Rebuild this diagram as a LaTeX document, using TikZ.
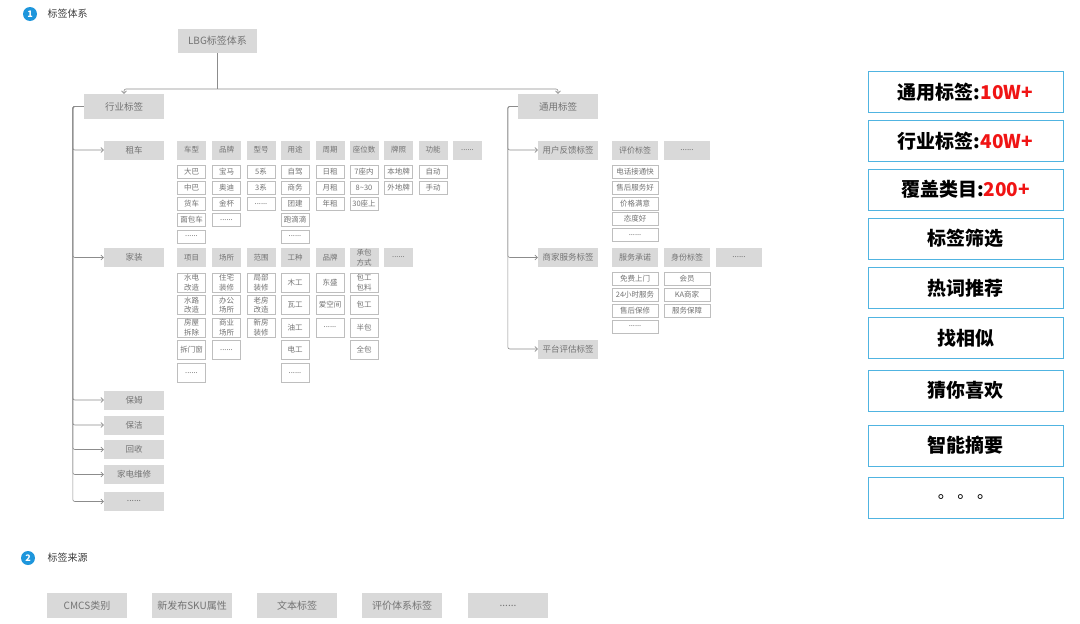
\documentclass[tikz,border=0pt]{standalone}
\usepackage{fontspec}
\setmainfont{Noto Sans CJK SC}
\usetikzlibrary{arrows.meta}
\definecolor{tagfill}{RGB}{217,217,217}
\definecolor{tagtext}{RGB}{115,115,115}
\definecolor{valline}{RGB}{190,190,190}
\definecolor{linegray}{RGB}{140,140,140}
\definecolor{badgeblue}{RGB}{30,150,220}
\definecolor{statline}{RGB}{80,180,225}
\definecolor{statred}{RGB}{240,20,20}
\definecolor{titletext}{RGB}{60,60,60}
\tikzset{
  catbox/.style={fill=tagfill, text=tagtext, inner sep=0pt, minimum width=60,
              minimum height=19, font=\fontsize{8.5}{9}\selectfont, align=center},
  attrbox/.style={catbox, minimum width=29, font=\fontsize{7.5}{9}\selectfont},
  wideattr/.style={catbox, minimum width=46, font=\fontsize{8}{9}\selectfont},
  valbox/.style={draw=valline, fill=white, text=tagtext, inner sep=0pt, minimum width=28,
              minimum height=13, font=\fontsize{7.5}{9.5}\selectfont, align=center},
  tallval/.style={valbox, minimum height=19},
  wideval/.style={valbox, minimum width=46},
  srcbox/.style={catbox, minimum width=80, minimum height=25, font=\fontsize{10}{11}\selectfont},
  statbox/.style={draw=statline, line width=0.9pt, minimum width=195, minimum height=41,
              font=\fontsize{19}{22}\selectfont\bfseries, text=black},
  badge/.style={circle, fill=badgeblue, text=white, minimum size=14, inner sep=0pt,
              font=\fontsize{9}{9}\selectfont\bfseries},
  title/.style={anchor=west, text=titletext, font=\fontsize{10}{11}\selectfont},
  link/.style={draw=linegray, line width=0.6pt, rounded corners=2pt,
              -{Straight Barb[length=2.5pt,width=5pt]}},
}

\begin{document}
\begin{tikzpicture}[x=1pt, y=-1pt]
  \useasboundingbox (0,0) rectangle (1080,624);
  % section 1
  \node[badge] (n1) at (30,14) {1};
  \node[title] (t1) at (44,14) {标签体系};
  \node[catbox, minimum width=79, minimum height=24, font=\fontsize{10}{11}\selectfont] (lbg) at (217.5,41) {LBG标签体系};
  \node[catbox, minimum width=80, minimum height=25, font=\fontsize{9.5}{10}\selectfont] (hy) at (124,106.5) {行业标签};
  \node[catbox, minimum width=80, minimum height=25, font=\fontsize{9.5}{10}\selectfont] (ty) at (558,106.5) {通用标签};
  \coordinate (split) at (217.5,89);
  \draw[linegray, line width=0.6pt] (lbg) -- (split);
  \draw[link] (split) -| (hy);
  \draw[link] (split) -| (ty);

  % industry categories
  \node[catbox] (zc) at (134,150) {租车};
  \node[catbox] (jz) at (134,257.5) {家装};
  \node[catbox] (bm) at (134,400) {保姆};
  \node[catbox] (bj) at (134,425) {保洁};
  \node[catbox] (hs) at (134,449.5) {回收};
  \node[catbox] (jd) at (134,474.5) {家电维修};
  \node[catbox] (hymore) at (134,501.5) {......};
  \draw[link] (hy.west) -- ++(-11,0) |- (zc.west);
  \draw[link] (hy.west) -- ++(-11,0) |- (jz.west);
  \draw[link] (hy.west) -- ++(-11,0) |- (bm.west);
  \draw[link] (hy.west) -- ++(-11,0) |- (bj.west);
  \draw[link] (hy.west) -- ++(-11,0) |- (hs.west);
  \draw[link] (hy.west) -- ++(-11,0) |- (jd.west);
  \draw[link] (hy.west) -- ++(-11,0) |- (hymore.west);

  % car rental
  \node[attrbox] (cx) at (191.5,150) {车型};
  \node[attrbox] (pp) at (226.5,150) {品牌};
  \node[attrbox] (xh) at (261,150) {型号};
  \node[attrbox] (yt) at (295,150) {用途};
  \node[attrbox] (zq) at (330,150) {周期};
  \node[attrbox] (zw) at (364,150) {座位数};
  \node[attrbox] (pz) at (398.5,150) {牌照};
  \node[attrbox] (gn) at (433,150) {功能};
  \node[attrbox] (zcmore) at (467.5,150) {......};
  \node[valbox] (cx1) at (191.5,171.5) {大巴};
  \node[valbox] (cx2) at (191.5,188) {中巴};
  \node[valbox] (cx3) at (191.5,204) {货车};
  \node[valbox] (cx4) at (191.5,220) {面包车};
  \node[valbox] (cx5) at (191.5,236.5) {......};
  \node[valbox] (pp1) at (226.5,171.5) {宝马};
  \node[valbox] (pp2) at (226.5,188) {奥迪};
  \node[valbox] (pp3) at (226.5,204) {金杯};
  \node[valbox] (pp4) at (226.5,220) {......};
  \node[valbox] (xh1) at (261,171.5) {5系};
  \node[valbox] (xh2) at (261,188) {3系};
  \node[valbox] (xh3) at (261,204) {......};
  \node[valbox] (yt1) at (295,171.5) {自驾};
  \node[valbox] (yt2) at (295,188) {商务};
  \node[valbox] (yt3) at (295,204) {团建};
  \node[valbox] (yt4) at (295,220) {跑滴滴};
  \node[valbox] (yt5) at (295,236.5) {......};
  \node[valbox] (zq1) at (330,171.5) {日租};
  \node[valbox] (zq2) at (330,188) {月租};
  \node[valbox] (zq3) at (330,204) {年租};
  \node[valbox] (zw1) at (364,171.5) {7座内};
  \node[valbox] (zw2) at (364,188) {8\textasciitilde30};
  \node[valbox] (zw3) at (364,204) {30座上};
  \node[valbox] (pz1) at (398.5,171.5) {本地牌};
  \node[valbox] (pz2) at (398.5,188) {外地牌};
  \node[valbox] (gn1) at (433,171.5) {自动};
  \node[valbox] (gn2) at (433,188) {手动};

  % home decoration
  \node[attrbox] (xm) at (191.5,257.5) {项目};
  \node[attrbox] (cs) at (226.5,257.5) {场所};
  \node[attrbox] (fw) at (261,257.5) {范围};
  \node[attrbox] (gz) at (295,257.5) {工种};
  \node[attrbox] (jpp) at (330,257.5) {品牌};
  \node[attrbox, font=\fontsize{7.5}{9.5}\selectfont] (cb) at (364,257.5) {承包\\方式};
  \node[attrbox] (jzmore) at (398.5,257.5) {......};
  \node[tallval] (xm1) at (191.5,282.5) {水电\\改造};
  \node[tallval] (xm2) at (191.5,305) {水路\\改造};
  \node[tallval] (xm3) at (191.5,327.5) {房屋\\拆除};
  \node[tallval] (xm4) at (191.5,350) {拆门窗};
  \node[tallval] (xm5) at (191.5,373) {......};
  \node[tallval] (cs1) at (226.5,282.5) {住宅\\装修};
  \node[tallval] (cs2) at (226.5,305) {办公\\场所};
  \node[tallval] (cs3) at (226.5,327.5) {商业\\场所};
  \node[tallval] (cs4) at (226.5,350) {......};
  \node[tallval] (fw1) at (261,282.5) {局部\\装修};
  \node[tallval] (fw2) at (261,305) {老房\\改造};
  \node[tallval] (fw3) at (261,327.5) {新房\\装修};
  \node[tallval] (gz1) at (295,282.5) {木工};
  \node[tallval] (gz2) at (295,305) {瓦工};
  \node[tallval] (gz3) at (295,327.5) {油工};
  \node[tallval] (gz4) at (295,350) {电工};
  \node[tallval] (gz5) at (295,373) {......};
  \node[tallval] (jpp1) at (330,282.5) {东盛};
  \node[tallval] (jpp2) at (330,305) {爱空间};
  \node[tallval] (jpp3) at (330,327.5) {......};
  \node[tallval] (cb1) at (364,282.5) {包工\\包料};
  \node[tallval] (cb2) at (364,305) {包工};
  \node[tallval] (cb3) at (364,327.5) {半包};
  \node[tallval] (cb4) at (364,350) {全包};

  % common tags
  \node[catbox] (fk) at (568,150) {用户反馈标签};
  \node[catbox] (sj) at (568,257.5) {商家服务标签};
  \node[catbox] (pt) at (568,349) {平台评估标签};
  \draw[link] (ty.west) -- ++(-10,0) |- (fk.west);
  \draw[link] (ty.west) -- ++(-10,0) |- (sj.west);
  \draw[link] (ty.west) -- ++(-10,0) |- (pt.west);
  \node[wideattr] (pj) at (635,150) {评价标签};
  \node[wideattr] (fkmore) at (687,150) {......};
  \node[wideval] (pj1) at (635,172) {电话接通快};
  \node[wideval] (pj2) at (635,188) {售后服务好};
  \node[wideval] (pj3) at (635,203.5) {价格满意};
  \node[wideval] (pj4) at (635,219) {态度好};
  \node[wideval] (pj5) at (635,235) {......};
  \node[wideattr] (fc) at (635,257.5) {服务承诺};
  \node[wideattr] (sf) at (687,257.5) {身份标签};
  \node[wideattr] (sjmore) at (739,257.5) {......};
  \node[wideval] (fc1) at (635,279) {免费上门};
  \node[wideval] (fc2) at (635,294.5) {24小时服务};
  \node[wideval] (fc3) at (635,310.5) {售后保修};
  \node[wideval] (fc4) at (635,326.5) {......};
  \node[wideval] (sf1) at (687,279) {会员};
  \node[wideval] (sf2) at (687,294.5) {KA商家};
  \node[wideval] (sf3) at (687,310.5) {服务保障};

  % section 2
  \node[badge] (n2) at (28,558) {2};
  \node[title] (t2) at (44,558) {标签来源};
  \node[srcbox] (src1) at (87,605.5) {CMCS类别};
  \node[srcbox] (src2) at (192,605.5) {新发布SKU属性};
  \node[srcbox] (src3) at (297,605.5) {文本标签};
  \node[srcbox] (src4) at (402,605.5) {评价体系标签};
  \node[srcbox] (src5) at (508,605.5) {......};

  % stats panel
  \node[statbox] (s1) at (965.5,92) {通用标签:\textcolor{statred}{10W+}};
  \node[statbox] (s2) at (965.5,141) {行业标签:\textcolor{statred}{40W+}};
  \node[statbox] (s3) at (965.5,189.5) {覆盖类目:\textcolor{statred}{200+}};
  \node[statbox] (s4) at (965.5,238.5) {标签筛选};
  \node[statbox] (s5) at (965.5,288) {热词推荐};
  \node[statbox] (s6) at (965.5,338) {找相似};
  \node[statbox] (s7) at (965.5,390.5) {猜你喜欢};
  \node[statbox] (s8) at (965.5,445.5) {智能摘要};
  \node[statbox, font=\fontsize{16}{18}\selectfont] (s9) at (965.5,497.5) {。\ 。\ 。};
\end{tikzpicture}
\end{document}
